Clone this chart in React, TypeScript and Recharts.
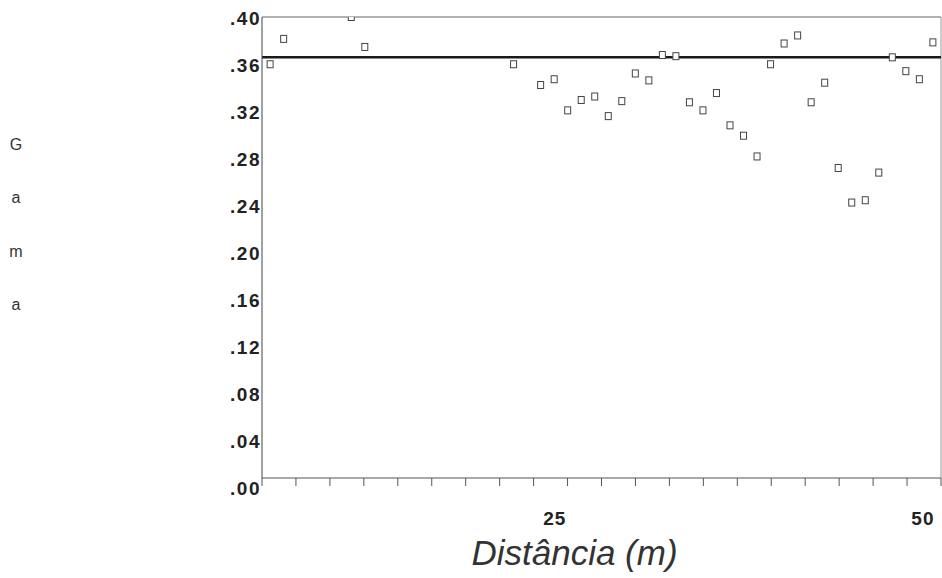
import { ScatterChart, Scatter, XAxis, YAxis, ReferenceLine } from "recharts";

// case number along the profile (only the cases that appear in the plot)
const caseNumbers = [
  1, 2, 7, 8, 19, 21, 22, 23, 24, 25, 26, 27, 28, 29, 30, 31, 32, 33, 34, 35,
  36, 37, 38, 39, 40, 41, 42, 43, 44, 45, 46, 47, 48, 49, 50,
];

const gamma = [
  0.359, 0.381, 0.4, 0.374, 0.359, 0.341, 0.346, 0.319, 0.328, 0.331, 0.314,
  0.327, 0.351, 0.345, 0.367, 0.366, 0.326, 0.319, 0.334, 0.306, 0.297, 0.279,
  0.359, 0.377, 0.384, 0.326, 0.343, 0.269, 0.239, 0.241, 0.265, 0.365, 0.353,
  0.346, 0.378,
];

const meanGamma = 0.365;

const yTicks = [0, 0.04, 0.08, 0.12, 0.16, 0.2, 0.24, 0.28, 0.32, 0.36, 0.4];
const xLabelTicks = [25, 50];
const xLabelShift = [-40, -10];

const X_MIN = 0.4;
const X_MAX = 50.6;
const xMinorTicks = Array.from({ length: 21 }, (_, k) => X_MIN + (k * (X_MAX - X_MIN)) / 20);

const points = caseNumbers.map((c, i) => ({ x: c, y: gamma[i] }));

const FONT = '"Liberation Sans", Arial, sans-serif';

function Square(props: any) {
  const { cx, cy } = props;
  return (
    <rect x={cx - 3} y={cy - 3.5} width={6} height={7} fill="#fff" stroke="#444" strokeWidth={1} />
  );
}

function YTick(props: any) {
  const { x, y, payload } = props;
  const v = payload.value as number;
  const dy = 8 + (0.4 - v) * 23;
  return (
    <text
      x={x}
      y={y + dy}
      textAnchor="end"
      fontFamily={FONT}
      fontWeight="bold"
      fontSize={19}
      letterSpacing={1.5}
      fill="#222"
    >
      {v.toFixed(2).replace(/^0/, "")}
    </text>
  );
}

function XLabelTick(props: any) {
  const { x, y, payload } = props;
  const idx = xLabelTicks.indexOf(payload.value);
  return (
    <text
      x={x + (xLabelShift[idx] ?? 0)}
      y={y + 33}
      textAnchor="middle"
      fontFamily={FONT}
      fontWeight="bold"
      fontSize={19}
      letterSpacing={1}
      fill="#222"
    >
      {payload.value}
    </text>
  );
}

function XTitle(props: any) {
  const vb = props.viewBox;
  return (
    <text
      x={vb.x + vb.width / 2 - 27}
      y={565}
      textAnchor="middle"
      fontFamily={FONT}
      fontStyle="italic"
      fontSize={35}
      fill="#333"
    >
      Distância (m)
    </text>
  );
}

function YTitle() {
  const letters = ["G", "a", "m", "a"];
  return (
    <g>
      {letters.map((l, i) => (
        <text
          key={i}
          x={16}
          y={150 + i * 53.3}
          textAnchor="middle"
          fontFamily={FONT}
          fontSize={16}
          fill="#333"
        >
          {l}
        </text>
      ))}
    </g>
  );
}

export default function App() {
  return (
    <div style={{ position: "absolute", left: 0, top: 0, width: 942, height: 578, background: "#fff" }}>
      <ScatterChart width={942} height={578} margin={{ top: 17, right: 1, bottom: 0, left: 0 }}>
        <XAxis
          xAxisId={0}
          type="number"
          dataKey="x"
          domain={[X_MIN, X_MAX]}
          ticks={xMinorTicks}
          tickFormatter={() => ""}
          tickSize={8}
          stroke="#555"
          height={14}
          allowDataOverflow
        />
        <XAxis
          xAxisId={1}
          type="number"
          dataKey="x"
          domain={[X_MIN, X_MAX]}
          ticks={xLabelTicks}
          axisLine={false}
          tickLine={false}
          tickSize={0}
          tickMargin={0}
          height={86}
          tick={<XLabelTick />}
          label={<XTitle />}
          allowDataOverflow
        />
        <YAxis
          type="number"
          dataKey="y"
          domain={[0, 0.4]}
          ticks={yTicks}
          width={262}
          tickSize={0}
          tickMargin={1}
          stroke="#444"
          tick={<YTick />}
          label={<YTitle />}
          allowDataOverflow
        />
        <ReferenceLine xAxisId={0} y={0.4} stroke="#666" strokeWidth={1} />
        <ReferenceLine xAxisId={0} x={X_MAX} stroke="#999" strokeWidth={1} />
        <ReferenceLine xAxisId={0} y={meanGamma} stroke="#1a1a1a" strokeWidth={2.5} />
        <Scatter xAxisId={0} data={points} shape={<Square />} isAnimationActive={false} />
      </ScatterChart>
    </div>
  );
}
